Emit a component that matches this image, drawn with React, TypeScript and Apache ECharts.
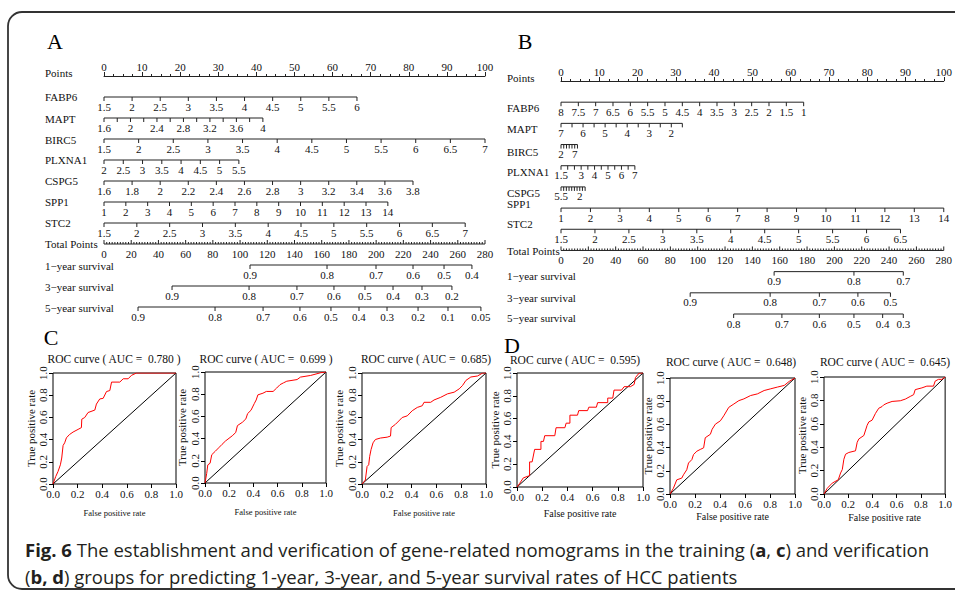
import { useEffect, useRef } from 'react';
import * as echarts from 'echarts';

const SERIF = '"Liberation Serif", "Times New Roman", Times, serif';
const SANS = '"Open Sans", "Noto Sans", sans-serif';

// ---------------- Panel A : training nomogram ----------------
const aFabp6Ticks = [1.5, 2, 2.5, 3, 3.5, 4, 4.5, 5, 5.5, 6];
const aMaptTicks = [1.6, 1.8, 2, 2.2, 2.4, 2.6, 2.8, 3, 3.2, 3.4, 3.6, 3.8, 4];
const aMaptLabels = [1.6, 2, 2.4, 2.8, 3.2, 3.6, 4];
const aBirc5Ticks = [1.5, 2, 2.5, 3, 3.5, 4, 4.5, 5, 5.5, 6, 6.5, 7];
const aPlxna1Ticks = [2, 2.5, 3, 3.5, 4, 4.5, 5, 5.5];
const aCspg5Ticks = [1.6, 1.8, 2, 2.2, 2.4, 2.6, 2.8, 3, 3.2, 3.4, 3.6, 3.8];
const aSpp1Ticks = [1, 2, 3, 4, 5, 6, 7, 8, 9, 10, 11, 12, 13, 14];
const aStc2Ticks = [1.5, 2, 2.5, 3, 3.5, 4, 4.5, 5, 5.5, 6, 6.5, 7];
// points reached at the far end of each predictor axis
const aEndPoints = [66.4, 41.7, 100, 35.4, 81.1, 74.5, 94.8];
const aSurv1Labels = [0.9, 0.8, 0.7, 0.6, 0.5, 0.4];
const aSurv1Total = [107.3, 163.9, 199.9, 227.1, 249.9, 270.4];
const aSurv3Labels = [0.9, 0.8, 0.7, 0.6, 0.5, 0.4, 0.3, 0.2];
const aSurv3Total = [50, 106.6, 141.8, 169, 191.8, 212.4, 233.7, 255.7];
const aSurv5Labels = [0.9, 0.8, 0.7, 0.6, 0.5, 0.4, 0.3, 0.2, 0.1, 0.05];
const aSurv5Total = [25, 81.6, 116.9, 144, 166.8, 187.4, 208, 230.8, 252.8, 277];

// ---------------- Panel B : verification nomogram ----------------
const bFabp6Ticks = [8, 7.5, 7, 6.5, 6, 5.5, 5, 4.5, 4, 3.5, 3, 2.5, 2, 1.5, 1];
const bMaptTicks = [7, 6.5, 6, 5.5, 5, 4.5, 4, 3.5, 3, 2.5, 2, 1.5];
const bMaptLabels = [7, 6, 5, 4, 3, 2];
const bBirc5Ticks = [2, 3, 4, 5, 6, 7, 8];
const bBirc5Labels = [2, 7];
const bPlxna1Ticks = [1.5, 2, 2.5, 3, 3.5, 4, 4.5, 5, 5.5, 6, 6.5, 7];
const bPlxna1Labels = [1.5, 3, 4, 5, 6, 7];
const bCspg5Ticks = [5.5, 5, 4.5, 4, 3.5, 3, 2.5, 2, 1.5, 1];
const bCspg5Labels = [5.5, 2];
const bSpp1Ticks = [1, 2, 3, 4, 5, 6, 7, 8, 9, 10, 11, 12, 13, 14];
const bStc2Ticks = [1.5, 2, 2.5, 3, 3.5, 4, 4.5, 5, 5.5, 6, 6.5];
const bEndPoints = [63.4, 31.7, 4.3, 19.3, 6.3, 100, 88.7];
const bSurv1Labels = [0.9, 0.8, 0.7];
const bSurv1Total = [155.9, 214.3, 250.4];
const bSurv3Labels = [0.9, 0.8, 0.7, 0.6, 0.5];
const bSurv3Total = [94.5, 153, 189, 217.2, 241];
const bSurv5Labels = [0.8, 0.7, 0.6, 0.5, 0.4, 0.3];
const bSurv5Total = [126.3, 161.6, 189, 214.3, 235.3, 250.4];

const totalPointsLabels = [0, 20, 40, 60, 80, 100, 120, 140, 160, 180, 200, 220, 240, 260, 280];
const predictorNames = ['FABP6', 'MAPT', 'BIRC5', 'PLXNA1', 'CSPG5', 'SPP1', 'STC2'];
const survivalNames = ['1\u2212year survival', '3\u2212year survival', '5\u2212year survival'];

// ---------------- ROC curves (FPR, TPR) ----------------
const rocC1 = [[0,0],[0.022,0.067],[0.041,0.113],[0.06,0.173],[0.071,0.234],[0.082,0.347],[0.095,0.371],[0.109,0.416],[0.122,0.432],[0.136,0.447],[0.163,0.468],[0.204,0.492],[0.231,0.508],[0.234,0.584],[0.258,0.599],[0.285,0.644],[0.34,0.666],[0.353,0.72],[0.38,0.766],[0.408,0.772],[0.435,0.833],[0.462,0.842],[0.476,0.918],[0.543,0.918],[0.571,0.948],[0.611,0.948],[0.638,0.979],[0.679,1],[1,1]];
const rocC2 = [[0,0],[0.014,0.086],[0.023,0.163],[0.042,0.178],[0.056,0.255],[0.085,0.286],[0.113,0.317],[0.141,0.348],[0.169,0.378],[0.225,0.425],[0.254,0.455],[0.268,0.517],[0.31,0.548],[0.338,0.578],[0.352,0.625],[0.38,0.655],[0.408,0.717],[0.423,0.748],[0.437,0.794],[0.479,0.809],[0.507,0.825],[0.563,0.825],[0.592,0.855],[0.62,0.886],[0.648,0.902],[0.676,0.917],[0.761,0.932],[0.789,0.954],[0.873,0.969],[0.958,0.994],[1,1]];
const rocC3 = [[0,0],[0.027,0.036],[0.041,0.158],[0.054,0.173],[0.062,0.249],[0.073,0.31],[0.089,0.371],[0.108,0.401],[0.149,0.414],[0.203,0.422],[0.23,0.432],[0.235,0.508],[0.27,0.538],[0.297,0.568],[0.324,0.599],[0.365,0.614],[0.405,0.66],[0.446,0.69],[0.486,0.705],[0.5,0.736],[0.554,0.736],[0.581,0.757],[0.635,0.781],[0.689,0.812],[0.743,0.827],[0.784,0.857],[0.811,0.888],[0.838,0.933],[0.878,0.964],[0.932,0.973],[0.973,1],[1,1]];
const rocD1 = [[0,0],[0.02,0.03],[0.05,0.08],[0.1,0.1],[0.1,0.22],[0.12,0.22],[0.14,0.33],[0.19,0.33],[0.19,0.4],[0.21,0.4],[0.22,0.45],[0.3,0.45],[0.31,0.52],[0.38,0.52],[0.39,0.56],[0.42,0.56],[0.42,0.63],[0.48,0.63],[0.49,0.67],[0.56,0.67],[0.57,0.7],[0.63,0.7],[0.64,0.74],[0.72,0.74],[0.72,0.78],[0.76,0.78],[0.77,0.85],[0.83,0.85],[0.85,0.88],[0.9,0.88],[0.93,0.9],[0.94,0.96],[0.97,1],[1,1]];
const rocD2 = [[0,0],[0.027,0.049],[0.054,0.122],[0.094,0.137],[0.108,0.166],[0.134,0.209],[0.148,0.267],[0.175,0.297],[0.188,0.34],[0.215,0.369],[0.242,0.384],[0.269,0.398],[0.282,0.485],[0.323,0.515],[0.337,0.558],[0.363,0.602],[0.403,0.631],[0.43,0.674],[0.47,0.747],[0.511,0.776],[0.551,0.805],[0.591,0.82],[0.645,0.849],[0.699,0.863],[0.753,0.892],[0.806,0.907],[0.86,0.922],[0.914,0.936],[0.954,0.971],[1,1]];
const rocD3 = [[0,0],[0.027,0.049],[0.068,0.093],[0.118,0.122],[0.137,0.18],[0.151,0.209],[0.164,0.297],[0.178,0.34],[0.205,0.355],[0.26,0.369],[0.274,0.442],[0.288,0.471],[0.329,0.5],[0.356,0.587],[0.37,0.616],[0.397,0.631],[0.425,0.689],[0.452,0.733],[0.479,0.747],[0.493,0.762],[0.521,0.776],[0.562,0.791],[0.63,0.797],[0.671,0.811],[0.712,0.834],[0.74,0.849],[0.753,0.892],[0.808,0.907],[0.849,0.922],[0.904,0.922],[0.918,0.965],[0.945,0.98],[0.973,0.98],[1,1]];
const rocAuc = ['0.780 )', '0.699 )', '0.685)', '0.595)', '0.648)', '0.645)'];
const rocCurves = [rocC1, rocC2, rocC3, rocD1, rocD2, rocD3];

// ---------------- layout (pixels) ----------------
const nomoLayout = [
  { left: 104, top: 76, width: 381, height: 231, nameX: 45, font: 11, nameDy: [-3, 0, 1, 1, 0, 0, 0, 0, 0, 1, 1, 1] },
  { left: 561, top: 81, width: 388, height: 233, nameX: 507, font: 11, nameDy: [-3, 6, 6, 7, 6, 6, -4, -5, 1, 4, 5, 4] },
];
const rocLayout = [
  { left: 53, top: 373, width: 123, height: 111, tx: 114, ty: 359, xGap: 24, xFs: 8.5, yGap: 17 },
  { left: 205, top: 372, width: 121, height: 111, tx: 266, ty: 359, xGap: 24, xFs: 8.5, yGap: 18 },
  { left: 362, top: 373, width: 124, height: 111, tx: 426, ty: 359, xGap: 24, xFs: 8.5, yGap: 18 },
  { left: 517, top: 373, width: 126, height: 114, tx: 575, ty: 360, xGap: 21, xFs: 10, yGap: 16 },
  { left: 670, top: 378, width: 125, height: 116, tx: 731, ty: 362, xGap: 17, xFs: 10, yGap: 16 },
  { left: 824, top: 377, width: 128, height: 117, tx: 885, ty: 362, xGap: 18, xFs: 10, yGap: 15 },
];

type Item = {
  kind: 'seg' | 'tick' | 'name';
  p: number;
  row: number;
  p2?: number;
  text?: string;
  len?: number;
  dir?: number;
  labelDir?: number;
};

type Predictor = { ticks: number[]; labels: number[] };

function buildItems(preds: Predictor[], endPts: number[], survLabels: number[][], survTotals: number[][]) {
  const items: Item[] = [];
  items.push({ kind: 'name', p: 0, row: 0, text: 'Points' });
  preds.forEach((pr, i) => {
    const row = i + 1;
    const v0 = pr.ticks[0];
    const v1 = pr.ticks[pr.ticks.length - 1];
    const toPts = (v: number) => ((v - v0) / (v1 - v0)) * endPts[i];
    items.push({ kind: 'name', p: 0, row, text: predictorNames[i] });
    items.push({ kind: 'seg', p: 0, p2: endPts[i], row });
    pr.ticks.forEach((t) => {
      const lab = pr.labels.some((l) => Math.abs(l - t) < 1e-9);
      items.push({ kind: 'tick', p: toPts(t), row, len: 4, dir: 1, labelDir: 1, text: lab ? String(t) : undefined });
    });
  });
  const tRow = preds.length + 1;
  items.push({ kind: 'name', p: 0, row: tRow, text: 'Total Points' });
  items.push({ kind: 'seg', p: 0, p2: 100, row: tRow });
  for (let tp = 0; tp <= 280; tp += 2) {
    const major = totalPointsLabels.indexOf(tp) >= 0;
    items.push({ kind: 'tick', p: (tp * 100) / 280, row: tRow, len: major ? 4 : 2, dir: -1, labelDir: 1, text: major ? String(tp) : undefined });
  }
  survLabels.forEach((labs, k) => {
    const row = tRow + 1 + k;
    const tots = survTotals[k];
    items.push({ kind: 'name', p: 0, row, text: survivalNames[k] });
    items.push({ kind: 'seg', p: (tots[0] * 100) / 280, p2: (tots[tots.length - 1] * 100) / 280, row });
    labs.forEach((l, j) => {
      items.push({ kind: 'tick', p: (tots[j] * 100) / 280, row, len: 4, dir: 1, labelDir: 1, text: String(l) });
    });
  });
  return items;
}

const aItems = buildItems(
  [
    { ticks: aFabp6Ticks, labels: aFabp6Ticks },
    { ticks: aMaptTicks, labels: aMaptLabels },
    { ticks: aBirc5Ticks, labels: aBirc5Ticks },
    { ticks: aPlxna1Ticks, labels: aPlxna1Ticks },
    { ticks: aCspg5Ticks, labels: aCspg5Ticks },
    { ticks: aSpp1Ticks, labels: aSpp1Ticks },
    { ticks: aStc2Ticks, labels: aStc2Ticks },
  ],
  aEndPoints,
  [aSurv1Labels, aSurv3Labels, aSurv5Labels],
  [aSurv1Total, aSurv3Total, aSurv5Total]
);
const bItems = buildItems(
  [
    { ticks: bFabp6Ticks, labels: bFabp6Ticks },
    { ticks: bMaptTicks, labels: bMaptLabels },
    { ticks: bBirc5Ticks, labels: bBirc5Labels },
    { ticks: bPlxna1Ticks, labels: bPlxna1Labels },
    { ticks: bCspg5Ticks, labels: bCspg5Labels },
    { ticks: bSpp1Ticks, labels: bSpp1Ticks },
    { ticks: bStc2Ticks, labels: bStc2Ticks },
  ],
  bEndPoints,
  [bSurv1Labels, bSurv3Labels, bSurv5Labels],
  [bSurv1Total, bSurv3Total, bSurv5Total]
);

const LINE = '#222';
const TXT = '#111';

function nomoSeries(items: Item[], idx: number) {
  const lay = nomoLayout[idx];
  return {
    type: 'custom',
    coordinateSystem: 'cartesian2d',
    xAxisIndex: idx,
    yAxisIndex: idx,
    clip: false,
    silent: true,
    data: items.map((it) => [it.p, it.row]),
    renderItem: (params: any, api: any) => {
      const it = items[params.dataIndex];
      const c = api.coord([api.value(0), api.value(1)]);
      if (it.kind === 'seg') {
        const c2 = api.coord([it.p2, api.value(1)]);
        return { type: 'line', shape: { x1: c[0], y1: c[1], x2: c2[0], y2: c2[1] }, style: { stroke: LINE, lineWidth: 1 } };
      }
      if (it.kind === 'name') {
        const dy = lay.nameDy[it.row] || 0;
        return {
          type: 'text',
          x: lay.nameX,
          y: c[1] + dy,
          style: { text: it.text, fill: TXT, fontSize: lay.font, fontFamily: SERIF, align: 'left', verticalAlign: 'middle', textAlign: 'left', textVerticalAlign: 'middle' },
        };
      }
      const children: any[] = [
        { type: 'line', shape: { x1: c[0], y1: c[1], x2: c[0], y2: c[1] + (it.dir || 1) * (it.len || 4) }, style: { stroke: LINE, lineWidth: 1 } },
      ];
      if (it.text) {
        children.push({
          type: 'text',
          x: c[0],
          y: c[1] + (it.labelDir || 1) * 9.5,
          style: { text: it.text, fill: TXT, fontSize: lay.font, fontFamily: SERIF, align: 'center', verticalAlign: 'middle', textAlign: 'center', textVerticalAlign: 'middle' },
        });
      }
      return { type: 'group', children };
    },
  };
}

export default function App() {
  const ref = useRef<HTMLDivElement>(null);
  useEffect(() => {
    if (!ref.current) return;
    const chart = echarts.init(ref.current, undefined, { renderer: 'svg' });

    const grids: any[] = [];
    const xAxes: any[] = [];
    const yAxes: any[] = [];
    const series: any[] = [];

    nomoLayout.forEach((lay, i) => {
      grids.push({ left: lay.left, top: lay.top, width: lay.width, height: lay.height, show: false });
      xAxes.push({
        gridIndex: i,
        type: 'value',
        min: 0,
        max: 100,
        interval: 10,
        position: 'top',
        axisLine: { show: true, onZero: false, lineStyle: { color: LINE, width: 1 } },
        axisTick: { show: true, length: 4, lineStyle: { color: LINE } },
        minorTick: { show: true, splitNumber: 4, length: 2, lineStyle: { color: LINE } },
        splitLine: { show: false },
        minorSplitLine: { show: false },
        axisLabel: { margin: 4, fontSize: lay.font, fontFamily: SERIF, color: TXT, showMaxLabel: true, showMinLabel: true },
      });
      yAxes.push({ gridIndex: i, type: 'value', min: 0, max: 11, inverse: true, show: false });
    });
    series.push(nomoSeries(aItems, 0));
    series.push(nomoSeries(bItems, 1));

    const graphics: any[] = [];
    rocLayout.forEach((lay, k) => {
      const gi = k + 2;
      grids.push({ left: lay.left, top: lay.top, width: lay.width, height: lay.height, show: true, borderColor: '#000', borderWidth: 1, backgroundColor: 'transparent' });
      xAxes.push({
        gridIndex: gi,
        type: 'value',
        min: 0,
        max: 1,
        interval: 0.2,
        axisLine: { show: false, onZero: false },
        axisTick: { show: true, length: 4, lineStyle: { color: '#000' } },
        splitLine: { show: false },
        axisLabel: { margin: 4, fontSize: 11, fontFamily: SERIF, color: TXT, formatter: (v: number) => v.toFixed(1) },
        name: 'False positive rate',
        nameLocation: 'middle',
        nameGap: lay.xGap,
        nameTextStyle: { fontSize: lay.xFs, fontFamily: SERIF, color: TXT },
      });
      yAxes.push({
        gridIndex: gi,
        type: 'value',
        min: 0,
        max: 1,
        interval: 0.2,
        axisLine: { show: false, onZero: false },
        axisTick: { show: true, length: 4, lineStyle: { color: '#000' } },
        splitLine: { show: false },
        axisLabel: { margin: 5, rotate: 90, fontSize: 11, fontFamily: SERIF, color: TXT, formatter: (v: number) => v.toFixed(1) },
        name: 'True positive rate',
        nameLocation: 'middle',
        nameGap: lay.yGap,
        nameRotate: 90,
        nameTextStyle: { fontSize: 11, fontFamily: SERIF, color: TXT },
      });
      series.push({
        type: 'line',
        xAxisIndex: gi,
        yAxisIndex: gi,
        data: [[0, 0], [1, 1]],
        showSymbol: false,
        symbol: 'none',
        silent: true,
        lineStyle: { color: '#000', width: 1 },
      });
      series.push({
        type: 'line',
        xAxisIndex: gi,
        yAxisIndex: gi,
        data: rocCurves[k],
        showSymbol: false,
        symbol: 'none',
        silent: true,
        lineStyle: { color: '#ff0000', width: 1 },
      });
      graphics.push({
        type: 'text',
        x: lay.tx,
        y: lay.ty,
        style: { text: 'ROC curve ( AUC =  ' + rocAuc[k], fill: TXT, fontSize: 11.5, fontFamily: SERIF, textAlign: 'center', textVerticalAlign: 'middle', align: 'center', verticalAlign: 'middle' },
      });
    });

    const letter = (t: string, x: number, y: number) => ({
      type: 'text',
      x,
      y,
      style: { text: t, fill: '#000', fontSize: 22, fontFamily: SERIF, textAlign: 'center', textVerticalAlign: 'middle', align: 'center', verticalAlign: 'middle' },
    });
    graphics.push(letter('A', 55, 41));
    graphics.push(letter('B', 525, 41));
    graphics.push(letter('C', 51, 337));
    graphics.push(letter('D', 512, 345));

    graphics.push({
      type: 'rect',
      shape: { x: 8, y: 12, width: 1000, height: 577, r: 14 },
      style: { fill: 'none', stroke: '#333', lineWidth: 1.8 },
      silent: true,
    });
    const capRich = { b: { fontWeight: 'bold', fontSize: 18.5, fontFamily: SANS, fill: '#231f20' } };
    graphics.push({
      type: 'text',
      x: 25,
      y: 549,
      style: {
        text: '{b|Fig. 6} The establishment and verification of gene-related nomograms in the training ({b|a}, {b|c}) and verification',
        fill: '#231f20', fontSize: 18.5, fontFamily: SANS, textAlign: 'left', textVerticalAlign: 'middle', align: 'left', verticalAlign: 'middle', rich: capRich,
      },
    });
    graphics.push({
      type: 'text',
      x: 25,
      y: 576,
      style: {
        text: '({b|b, d}) groups for predicting 1-year, 3-year, and 5-year survival rates of HCC patients',
        fill: '#231f20', fontSize: 18.5, fontFamily: SANS, textAlign: 'left', textVerticalAlign: 'middle', align: 'left', verticalAlign: 'middle', rich: capRich,
      },
    });

    chart.setOption({
      animation: false,
      backgroundColor: '#fff',
      grid: grids,
      xAxis: xAxes,
      yAxis: yAxes,
      series,
      graphic: graphics,
    });
    return () => chart.dispose();
  }, []);
  return <div ref={ref} style={{ position: 'fixed', left: 0, top: 0, width: 955, height: 592, background: '#fff' }} />;
}
